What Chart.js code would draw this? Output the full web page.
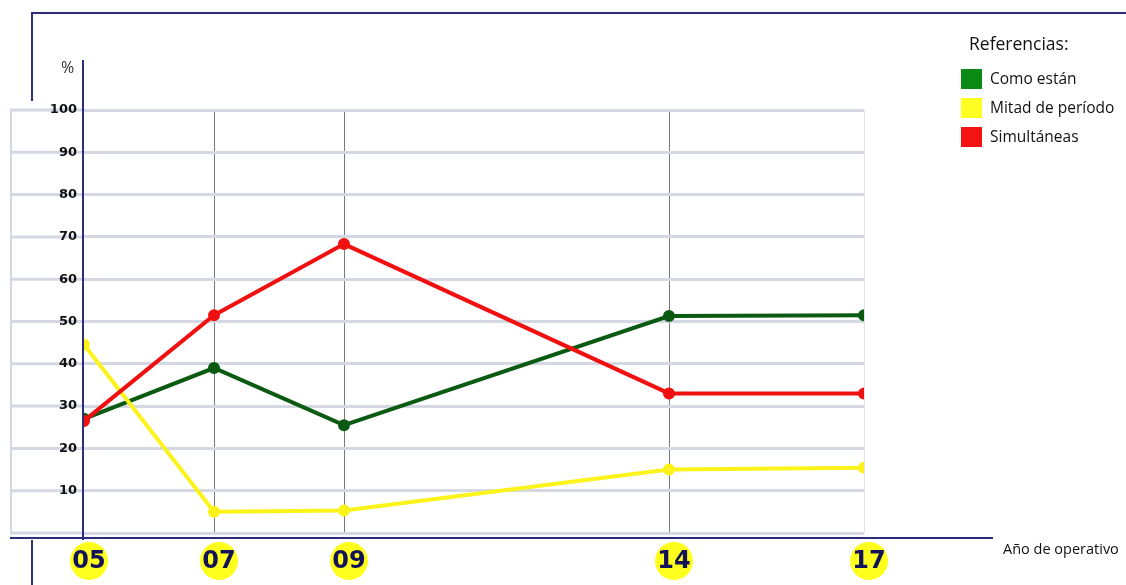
<!DOCTYPE html>
<html>
<head>
<meta charset="utf-8">
<script src="https://cdn.jsdelivr.net/npm/chart.js@4/dist/chart.umd.min.js"></script>
<style>
  html, body { margin: 0; padding: 0; background: #ffffff; }
  #wrap { width: 1126px; height: 585px; position: relative; }
</style>
</head>
<body>
<div id="wrap"><canvas id="c" width="1126" height="585"></canvas></div>
<script>
// Años de operativo (eje X) y etiquetas que se muestran
const years = [5, 7, 9, 14, 17];
const yearLabels = ['05', '07', '09', '14', '17'];

// Porcentajes por modalidad
const comoEstan = [27, 39, 25.5, 51.3, 51.5];
const mitadPeriodo = [44.5, 5, 5.3, 15, 15.4];
const simultaneas = [26.5, 51.5, 68.3, 33, 33];

// Marcas del eje Y
const yTicks = [0, 10, 20, 30, 40, 50, 60, 70, 80, 90, 100];

const seriesNames = ['Como están', 'Mitad de período', 'Simultáneas'];
const lineColors = ['#0b5a12', '#fbf31a', '#f01010'];
const legendColors = ['#0a8a14', '#ffff22', '#f51212'];

const NAVY = '#2c2d7e';
const GRID = '#d3d8e3';

function pts(vals) { return years.map((x, i) => ({ x: x, y: vals[i] })); }

const decor = {
  id: 'decor',
  beforeDraw(chart) {
    const ctx = chart.ctx;
    const ys = chart.scales.y;
    const area = chart.chartArea;
    ctx.save();
    // prolongación de las líneas horizontales hacia la izquierda
    ctx.strokeStyle = GRID;
    ctx.lineWidth = 3;
    yTicks.forEach(v => {
      const py = ys.getPixelForValue(v);
      ctx.beginPath();
      ctx.moveTo(10, py);
      ctx.lineTo(area.left, py);
      ctx.stroke();
    });
    // borde izquierdo del recuadro
    ctx.lineWidth = 2;
    ctx.beginPath();
    ctx.moveTo(11, ys.getPixelForValue(100));
    ctx.lineTo(11, ys.getPixelForValue(0) + 2);
    ctx.stroke();
    ctx.restore();
  },
  beforeDatasetsDraw(chart) {
    const ctx = chart.ctx;
    const area = chart.chartArea;
    ctx.save();
    ctx.strokeStyle = NAVY;
    ctx.lineWidth = 2;
    // marco exterior
    ctx.beginPath();
    ctx.moveTo(32, 101);
    ctx.lineTo(32, 13);
    ctx.lineTo(1126, 13);
    ctx.stroke();
    ctx.beginPath();
    ctx.moveTo(32, 540);
    ctx.lineTo(32, 585);
    ctx.stroke();
    // eje Y
    ctx.beginPath();
    ctx.moveTo(area.left - 1, 60);
    ctx.lineTo(area.left - 1, 540);
    ctx.stroke();
    // eje X
    ctx.beginPath();
    ctx.moveTo(10, 538);
    ctx.lineTo(993, 538);
    ctx.stroke();
    ctx.restore();
  },
  afterDraw(chart) {
    const ctx = chart.ctx;
    const xs = chart.scales.x;
    ctx.save();
    // etiquetas de los años sobre círculos amarillos
    years.forEach((v, i) => {
      const px = xs.getPixelForValue(v) + 5;
      const py = 561;
      ctx.fillStyle = '#ffff1e';
      ctx.beginPath();
      ctx.arc(px, py, 19, 0, Math.PI * 2);
      ctx.fill();
      ctx.fillStyle = '#13135a';
      ctx.font = 'bold 24px "DejaVu Sans"';
      ctx.textAlign = 'center';
      ctx.textBaseline = 'middle';
      ctx.fillText(yearLabels[i], px, py + 1);
    });
    // rótulos de los ejes
    ctx.fillStyle = '#333333';
    ctx.font = '16px "Open Sans"';
    ctx.textAlign = 'left';
    ctx.textBaseline = 'middle';
    ctx.fillText('%', 61, 68);
    ctx.fillStyle = '#111111';
    ctx.font = '14.5px "Open Sans"';
    ctx.fillText('Año de operativo', 1003, 550);
    // leyenda
    ctx.font = '17.5px "Open Sans"';
    ctx.fillText('Referencias:', 969, 45);
    ctx.font = '500 15.5px "Open Sans"';
    seriesNames.forEach((name, i) => {
      const cy = 79 + i * 29;
      ctx.fillStyle = legendColors[i];
      ctx.fillRect(961, cy - 10, 21, 20);
      ctx.fillStyle = '#111111';
      ctx.fillText(name, 990, cy + 1);
    });
    ctx.restore();
  }
};

new Chart(document.getElementById('c'), {
  type: 'line',
  data: {
    datasets: [comoEstan, mitadPeriodo, simultaneas].map((vals, i) => ({
      label: seriesNames[i],
      data: pts(vals),
      borderColor: lineColors[i],
      backgroundColor: lineColors[i],
      borderWidth: 4,
      pointRadius: 4,
      pointHoverRadius: 4,
      tension: 0,
      fill: false
    })).reverse()
  },
  options: {
    responsive: false,
    animation: false,
    events: [],
    layout: { padding: { left: 0, right: 262, top: 110, bottom: 52 } },
    plugins: { legend: { display: false }, tooltip: { enabled: false } },
    scales: {
      x: {
        type: 'linear',
        min: 5,
        max: 17,
        afterBuildTicks(scale) { scale.ticks = years.map(v => ({ value: v })); },
        ticks: { display: false },
        border: { display: false },
        grid: {
          drawTicks: false,
          lineWidth: 1,
          color(ctx) {
            const v = ctx.tick ? ctx.tick.value : null;
            if (v === 5) return 'rgba(0,0,0,0)';
            if (v === 17) return '#dfe4ea';
            return '#7a7a7a';
          }
        }
      },
      y: {
        min: 0,
        max: 100,
        afterBuildTicks(scale) { scale.ticks = yTicks.map(v => ({ value: v })); },
        afterFit(scale) { scale.width = 84; },
        border: { display: false },
        grid: { drawTicks: false, color: GRID, lineWidth: 3 },
        ticks: {
          padding: 7,
          color: '#111111',
          font: { family: 'DejaVu Sans', weight: 'bold', size: 13 },
          callback: v => (v === 0 ? '' : String(v))
        }
      }
    }
  },
  plugins: [decor]
});
</script>
</body>
</html>
